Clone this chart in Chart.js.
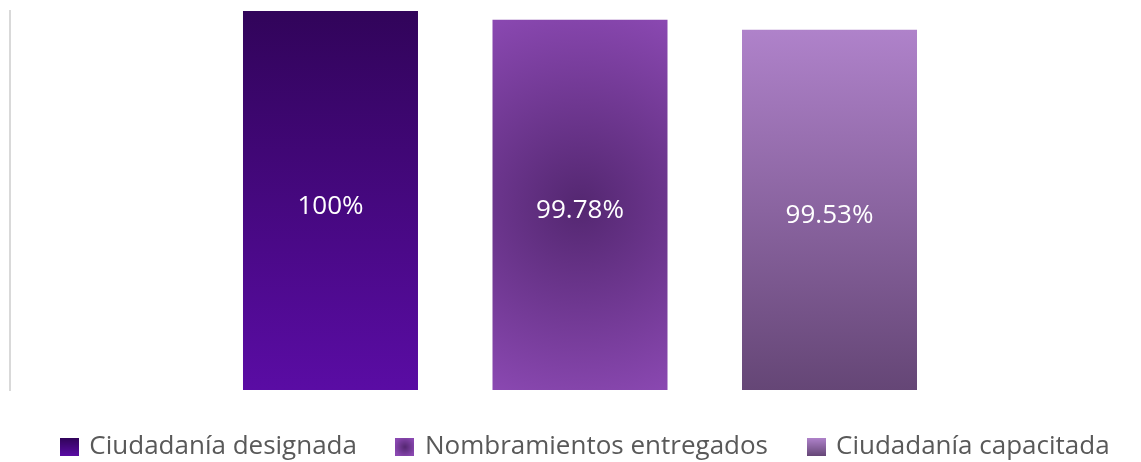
<!DOCTYPE html>
<html>
<head>
<meta charset="utf-8">
<script src="https://cdn.jsdelivr.net/npm/chart.js@4.4.0/dist/chart.umd.min.js"></script>
<style>
  html, body { margin: 0; padding: 0; background: #fff; overflow: hidden; }
  #wrap { width: 1150px; height: 462px; position: relative; }
</style>
</head>
<body>
<div id="wrap"><canvas id="chart"></canvas></div>
<script>
const categories = [''];
const seriesNames = ['Ciudadanía designada', 'Nombramientos entregados', 'Ciudadanía capacitada'];
const designada = [100];
const entregados = [99.78];
const capacitada = [99.53];
const axisMin = 90.5;
const axisMax = 100;

// gradient colours per series
const gradTop = ['#31045a', null, '#af82ca'];
const gradBottom = ['#5a0ca4', null, '#654676'];
const radialInner = '#542771';
const radialOuter = '#8a48b1';

function paintFor(ctx, i, x0, y0, x1, y1) {
  if (i === 1) {
    const cx = (x0 + x1) / 2, cy = (y0 + y1) / 2;
    const r = Math.max(y1 - y0, x1 - x0) * 0.55;
    const g = ctx.createRadialGradient(cx, cy, 0, cx, cy, r);
    g.addColorStop(0, radialInner);
    g.addColorStop(1, radialOuter);
    return g;
  }
  const g = ctx.createLinearGradient(0, y0, 0, y1);
  g.addColorStop(0, gradTop[i]);
  g.addColorStop(1, gradBottom[i]);
  return g;
}

function legendBox(i) {
  const c = document.createElement('canvas');
  c.width = 19; c.height = 18;
  const cx = c.getContext('2d');
  cx.fillStyle = paintFor(cx, i, 0, 0, 19, 18);
  cx.fillRect(0, 0, 19, 18);
  return c;
}
const legendImages = [0, 1, 2].map(legendBox);

// bar bottom is the visible axis bottom, not the value 0
function barBottom(chart, el) {
  return Math.min(el.base, chart.chartArea.bottom);
}

const gradientBars = {
  id: 'gradientBars',
  beforeDatasetsDraw(chart) {
    const ctx = chart.ctx;
    chart.data.datasets.forEach((ds, i) => {
      chart.getDatasetMeta(i).data.forEach(el => {
        const half = el.width / 2;
        el.options.backgroundColor = paintFor(ctx, i, el.x - half, el.y, el.x + half, barBottom(chart, el));
      });
    });
  }
};

const valueLabels = {
  id: 'valueLabels',
  afterDatasetsDraw(chart) {
    const ctx = chart.ctx;
    ctx.save();
    ctx.fillStyle = '#ffffff';
    ctx.font = '26px "Open Sans"';
    ctx.textAlign = 'center';
    ctx.textBaseline = 'middle';
    chart.data.datasets.forEach((ds, i) => {
      chart.getDatasetMeta(i).data.forEach((el, j) => {
        ctx.fillText(ds.data[j] + '%', el.x, (el.y + barBottom(chart, el)) / 2 + 6);
      });
    });
    ctx.restore();
  }
};

// nudge the legend a little right and down
const legendNudge = {
  id: 'legendNudge',
  afterLayout(chart) {
    const l = chart.legend;
    l.left += 10; l.right += 10;
    l.top += 3; l.bottom += 3;
  }
};

new Chart(document.getElementById('chart'), {
  type: 'bar',
  data: {
    labels: categories,
    datasets: [
      { label: seriesNames[0], data: designada, backgroundColor: gradBottom[0] },
      { label: seriesNames[1], data: entregados, backgroundColor: radialOuter },
      { label: seriesNames[2], data: capacitada, backgroundColor: gradTop[2] }
    ]
  },
  options: {
    responsive: true,
    maintainAspectRatio: false,
    animation: false,
    categoryPercentage: 0.6566,
    barPercentage: 0.7014,
    layout: { padding: { left: 2, top: 11, right: 0, bottom: 0 } },
    scales: {
      x: { display: false },
      y: {
        min: axisMin,
        max: axisMax,
        grid: { display: false },
        border: { color: '#d9d9d9', width: 2 },
        ticks: { display: false }
      }
    },
    plugins: {
      tooltip: { enabled: false },
      legend: {
        position: 'bottom',
        maxHeight: 72,
        labels: {
          usePointStyle: true,
          pointStyleWidth: 14,
          color: '#595959',
          font: { family: '"Open Sans"', size: 26 },
          padding: 41,
          generateLabels(chart) {
            const items = Chart.defaults.plugins.legend.labels.generateLabels(chart);
            items.forEach((it, i) => { it.pointStyle = legendImages[i]; });
            return items;
          }
        }
      }
    }
  },
  plugins: [gradientBars, valueLabels, legendNudge]
});
</script>
</body>
</html>
